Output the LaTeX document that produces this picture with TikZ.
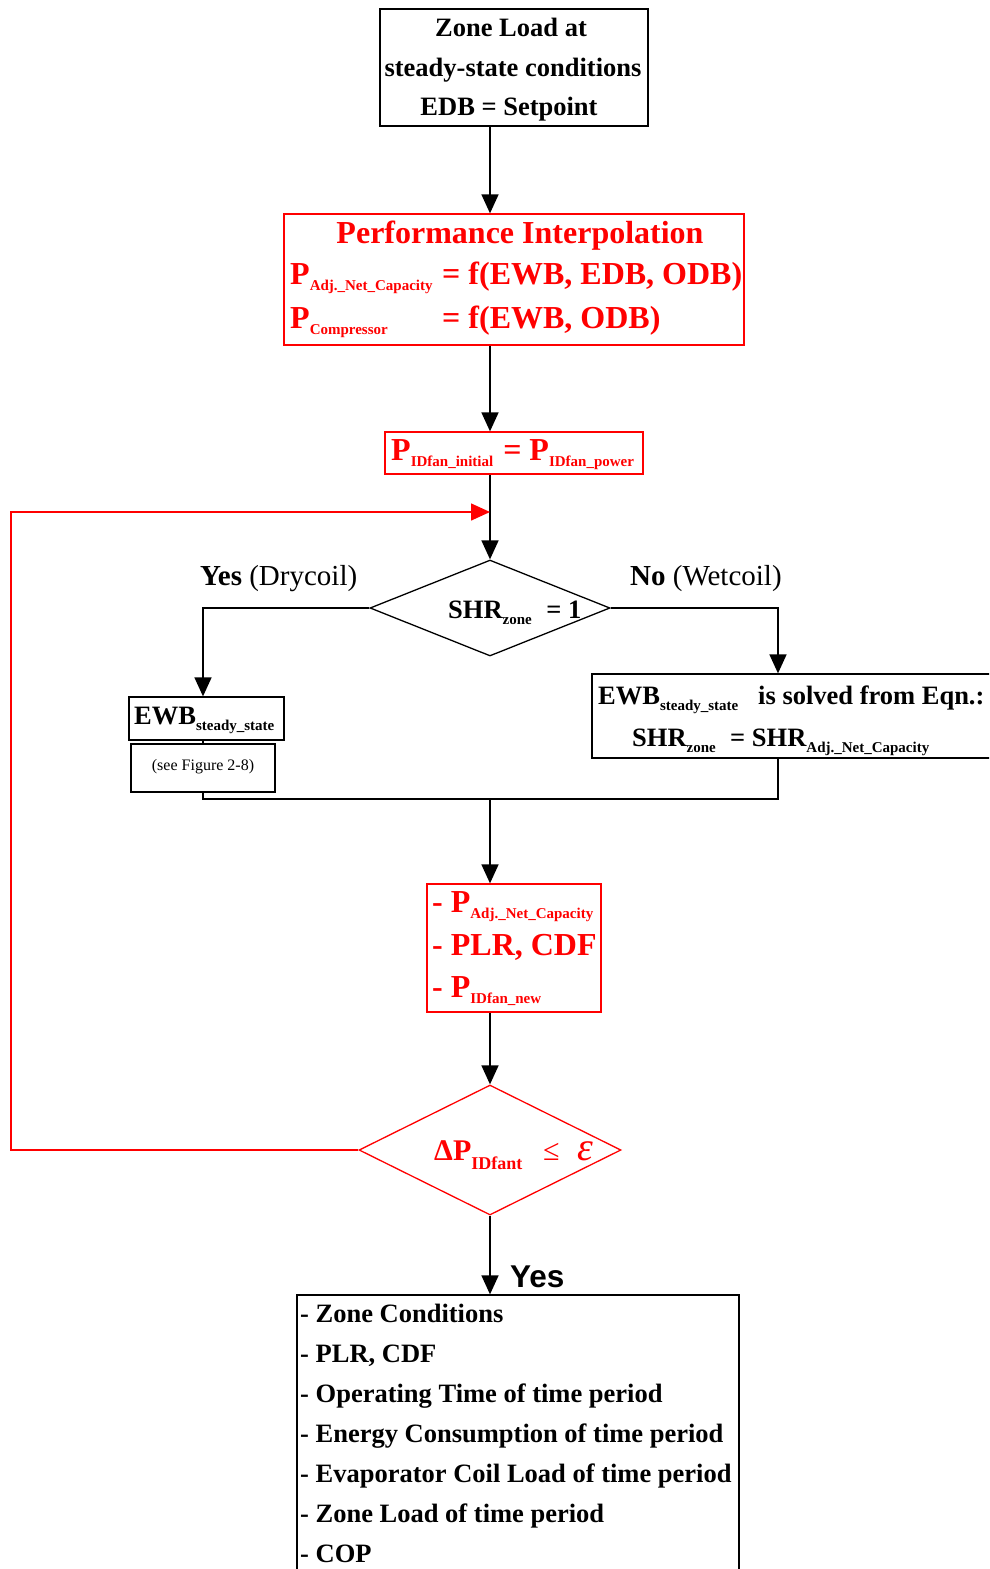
\documentclass[tikz,border=0pt]{standalone}
\usepackage{fontspec}
\setmainfont{Liberation Serif}
\newfontfamily\sansfam{Liberation Sans}
\usetikzlibrary{shapes.geometric,arrows.meta}
\newcommand{\sbs}[1]{\raisebox{-6.5pt}{\fontsize{15}{15}\selectfont\bfseries #1}}
\newcommand{\sbsbig}[1]{\raisebox{-9pt}{\fontsize{18}{18}\selectfont\bfseries #1}}
\begin{document}
\begin{tikzpicture}[x=1pt,y=-1pt,
  box/.style={draw, line width=1.3pt, rectangle, inner sep=0pt},
  redbox/.style={draw=red, line width=1.3pt, rectangle, inner sep=0pt},
  ln/.style={line width=1.6pt},
  arr/.style={line width=1.6pt, -{Triangle[length=19pt,width=17pt]}},
  redarr/.style={draw=red, line width=1.5pt, -{Triangle[length=19pt,width=17pt]}},
  tb/.style={inner sep=0pt, anchor=base west, font=\fontsize{26.5}{30}\selectfont\bfseries},
  tbc/.style={tb, anchor=base},
  tr/.style={inner sep=0pt, anchor=base west, text=red, font=\fontsize{32}{36}\selectfont\bfseries},
  lab/.style={inner sep=0pt, anchor=base west, font=\fontsize{29}{32}\selectfont}
]
\useasboundingbox (0,0) rectangle (989,1569);
\clip (0,0) rectangle (989,1569);

% boxes
\node[box, minimum width=268pt, minimum height=117pt] (zone) at (514,67.5) {};
\node[redbox, minimum width=460pt, minimum height=131pt] (perf) at (514,279.5) {};
\node[redbox, minimum width=258pt, minimum height=42pt] (pid) at (514,453) {};
\node[draw, line width=1.3pt, diamond, inner sep=0pt, minimum width=240pt, minimum height=96pt] (d1) at (490,608) {};
\node[box, minimum width=155pt, minimum height=43pt] (ewb) at (206.5,718.5) {};
\node[box, minimum width=144pt, minimum height=48pt] (see) at (203,768) {};
\node[box, minimum width=403pt, minimum height=84pt] (rbox) at (793.5,716) {};
\node[redbox, minimum width=174pt, minimum height=128pt] (red3) at (514,948) {};
\node[draw=red, line width=1.3pt, diamond, inner sep=0pt, minimum width=262pt, minimum height=130pt] (d2) at (490,1150) {};
\node[box, minimum width=442pt, minimum height=285pt] (out) at (518,1437.5) {};

% texts: top box
\node[tbc] (z1) at (511,36) {Zone Load at};
\node[tbc] (z2) at (513,76) {steady-state conditions};
\node[tbc] (z3) at (509,115) {EDB = Setpoint};

% performance box
\node[tr, anchor=base] (p0) at (520,243) {Performance Interpolation};
\node[tr] (p1) at (290,284) {P\sbs{Adj.\_Net\_Capacity}};
\node[tr] (p1b) at (442,284) {= f(EWB, EDB, ODB)};
\node[tr] (p2) at (290,328) {P\sbs{Compressor}};
\node[tr] (p2b) at (442,328) {= f(EWB, ODB)};

% PIDfan box
\node[tr] (q1) at (391,460) {P\sbs{IDfan\_initial}\hspace{2pt} = P\sbs{IDfan\_power}};

% diamond 1
\node[tb] (s1) at (448,618) {SHR\sbs{zone}\hspace{8pt} = 1};
\node[lab] (yes1) at (200,585) {\textbf{Yes} (Drycoil)};
\node[lab] (no1) at (630,585) {\textbf{No} (Wetcoil)};

% left boxes
\node[tb] (e1) at (134,724) {EWB\sbs{steady\_state}};
\node[inner sep=0pt, font=\fontsize{16}{18}\selectfont] (e2) at (203,767) {(see Figure 2-8)};

% right box
\node[tb] (r1) at (598,704) {EWB\sbs{steady\_state}};
\node[tb] (r1b) at (758,704) {is solved from Eqn.:};
\node[tb] (r2) at (632,746) {SHR\sbs{zone}};
\node[tb] (r2b) at (730,746) {= SHR\sbs{Adj.\_Net\_Capacity}};

% red box 3
\node[tr] (m1) at (432,912) {- P\sbs{Adj.\_Net\_Capacity}};
\node[tr] (m2) at (432,955) {- PLR, CDF};
\node[tr] (m3) at (432,997) {- P\sbs{IDfan\_new}};

% diamond 2
\node[tr, font=\fontsize{30}{34}\selectfont\bfseries] (c1) at (434,1160) {ΔP\sbsbig{IDfant}};
\node[tr, font=\fontsize{30}{34}\selectfont] (c2) at (543,1160) {≤};
\node[tr, font=\fontsize{40}{44}\selectfont\itshape] (c3) at (577,1160) {ε};

% Yes bottom
\node[inner sep=0pt, anchor=base west, font=\sansfam\fontsize{31.5}{34}\selectfont\bfseries] (yes2) at (510,1287) {Yes};

% output list
\node[tb] (o1) at (300,1322) {- Zone Conditions};
\node[tb] (o2) at (300,1362) {- PLR, CDF};
\node[tb] (o3) at (300,1402) {- Operating Time of time period};
\node[tb] (o4) at (300,1442) {- Energy Consumption of time period};
\node[tb] (o5) at (300,1482) {- Evaporator Coil Load of time period};
\node[tb] (o6) at (300,1522) {- Zone Load of time period};
\node[tb] (o7) at (300,1562) {- COP};

% connectors
\coordinate (jl) at (203,799);
\coordinate (jr) at (778,799);
\coordinate (jm) at (490,799);
\coordinate (lx) at (11,1150);
\coordinate (ly) at (11,512);
\coordinate (lj) at (490,512);

\draw[arr] (zone.south -| d1.north) -- (perf.north -| d1.north);
\draw[arr] (perf.south -| d1.north) -- (pid.north -| d1.north);
\draw[arr] (pid.south -| d1.north) -- (d1.north);
\draw[arr] (d1.west) -| (ewb.north -| see.north);
\draw[ln] (ewb.south -| see.north) -- (see.north);
\draw[arr] (d1.east) -| (rbox.north -| jr);
\draw[ln] (see.south) -- (jl) -- (jr) -- (rbox.south -| jr);
\draw[arr] (jm) -- (red3.north -| jm);
\draw[arr] (red3.south -| d2.north) -- (d2.north);
\draw[arr] (d2.south) -- (out.north -| d2.south);
\draw[redarr] (d2.west) -- (lx) -- (ly) -- (lj);
\end{tikzpicture}
\end{document}
